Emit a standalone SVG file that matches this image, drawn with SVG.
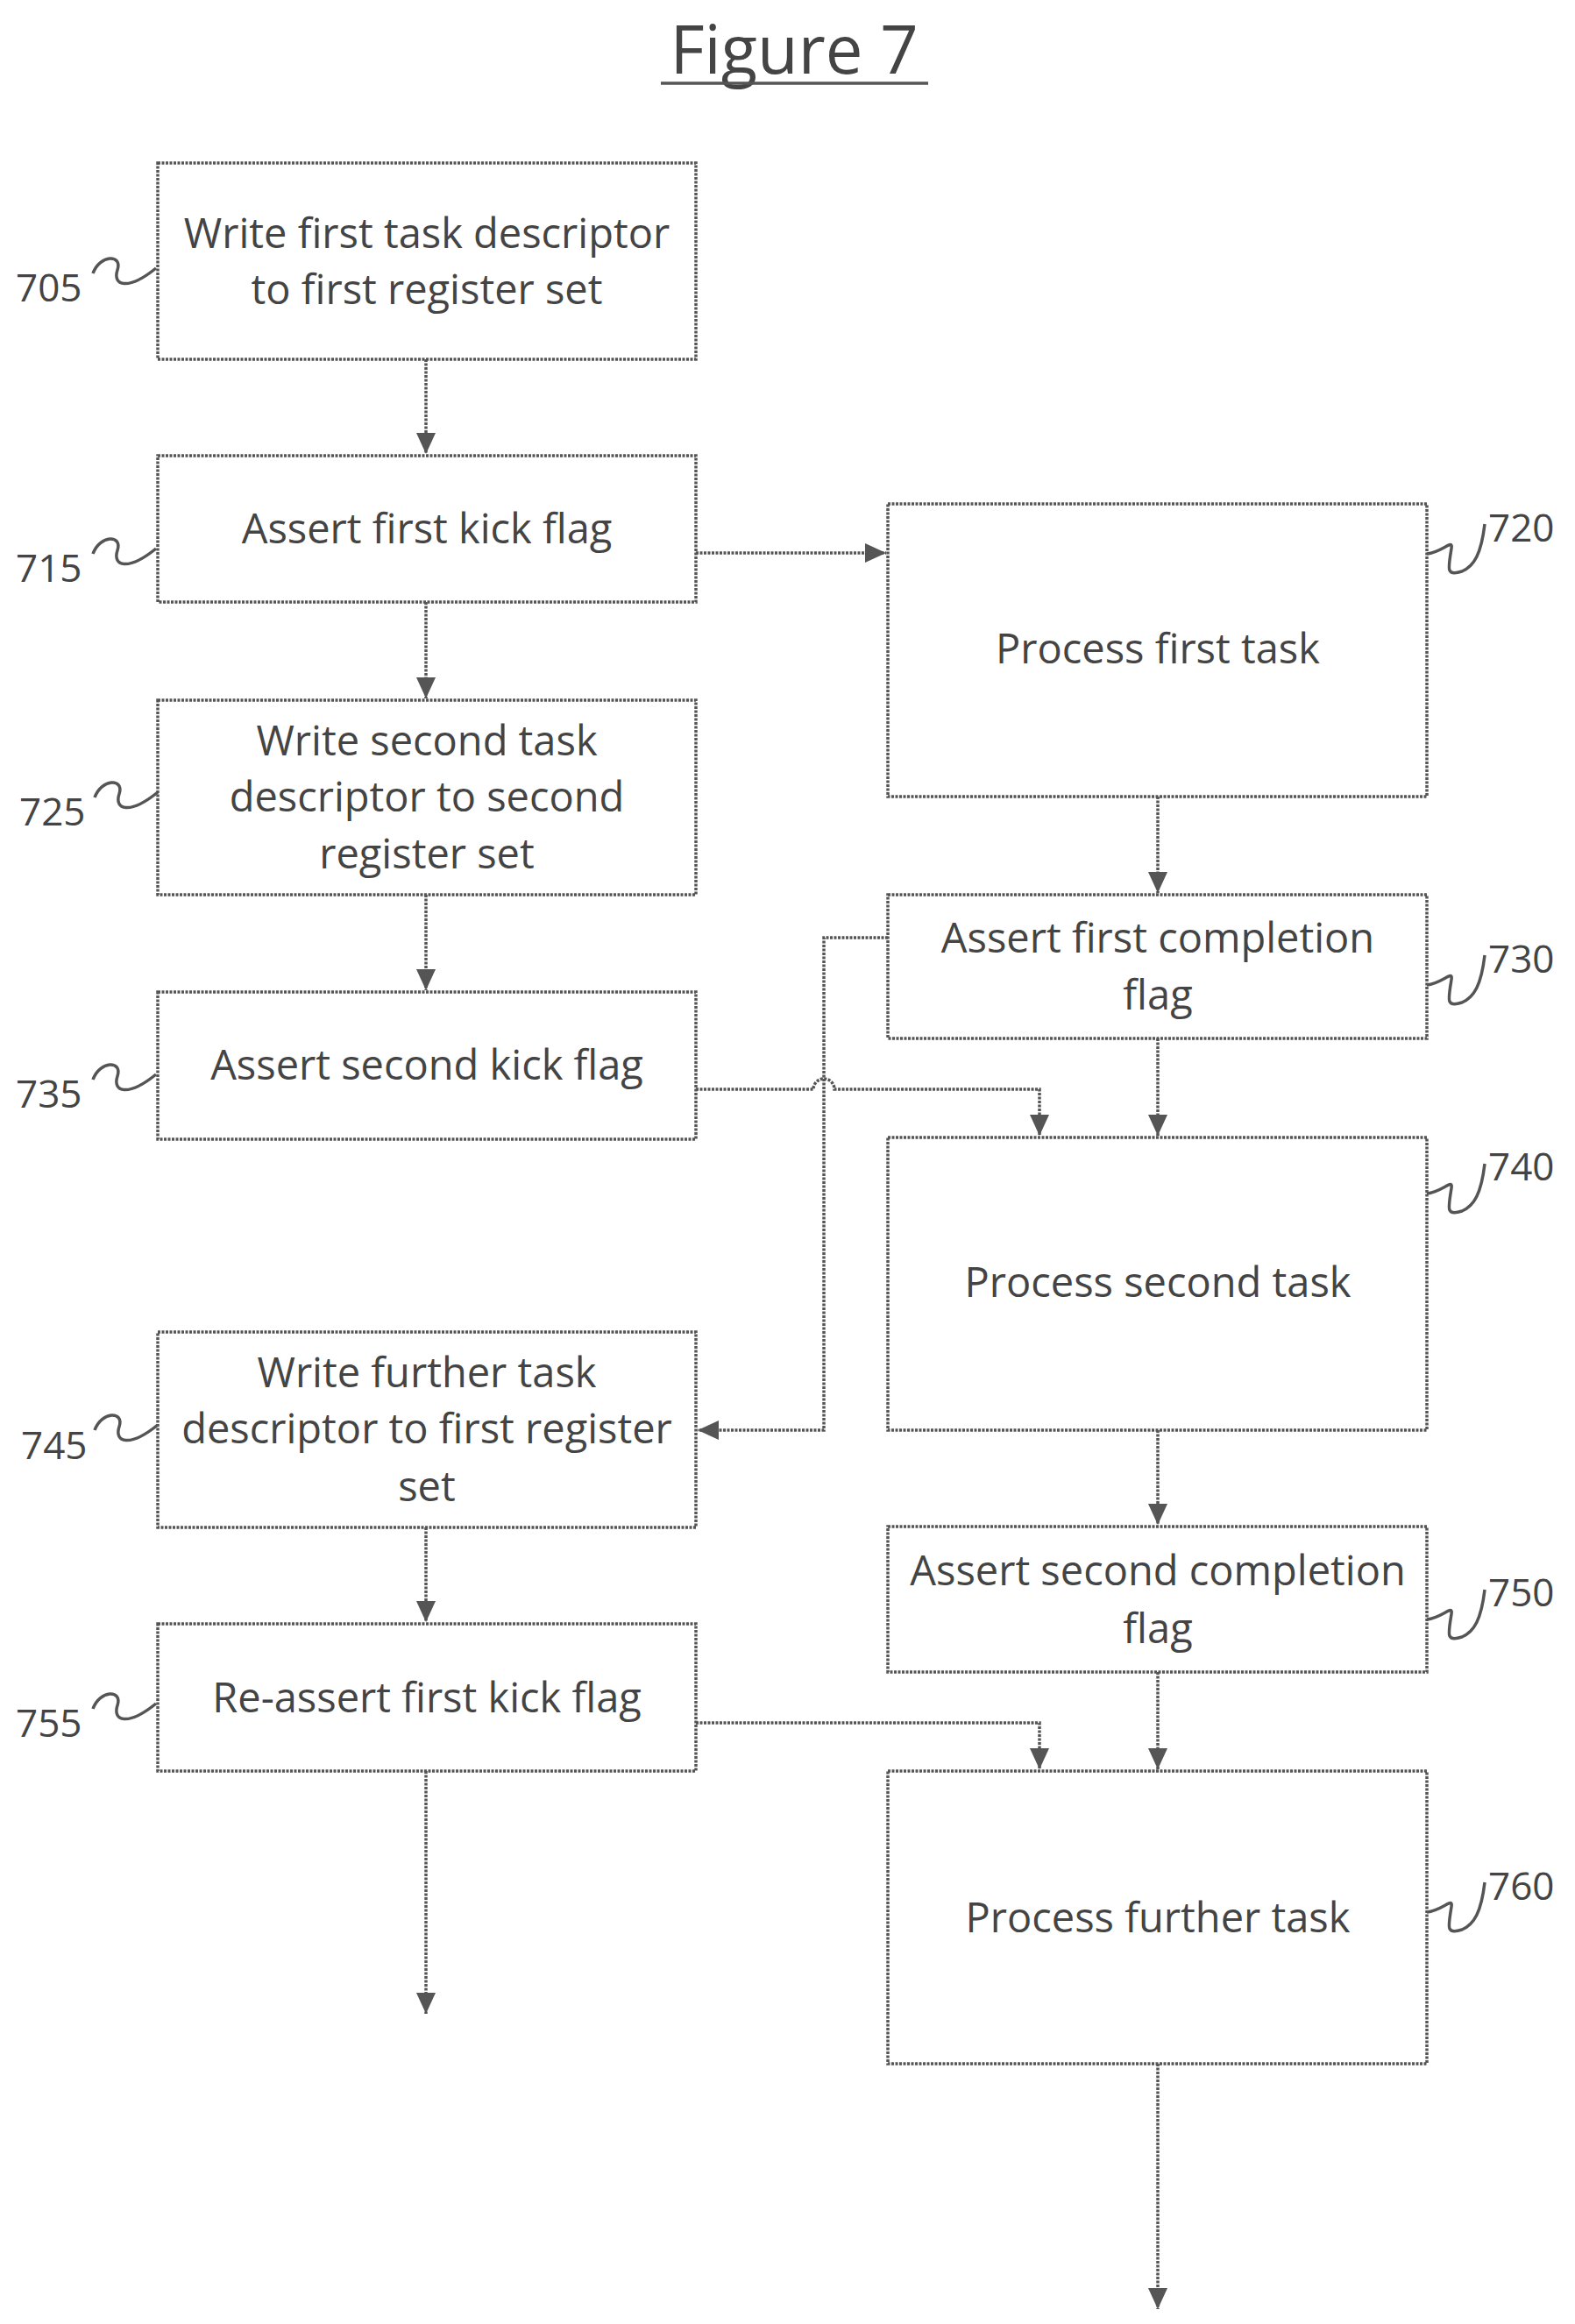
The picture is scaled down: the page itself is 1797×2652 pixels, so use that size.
<svg xmlns="http://www.w3.org/2000/svg" width="1797" height="2652" viewBox="0 0 1797 2652">
<style>
rect.b{fill:#fff;stroke:#555;stroke-width:3.5;stroke-dasharray:3 1.5}
text{font-family:"Open Sans","Liberation Sans",sans-serif;fill:#444}
.t{font-size:47px;text-anchor:middle}
.n{font-size:44px}
.c{fill:none;stroke:#555;stroke-width:3.5;stroke-dasharray:3 1.5}
.s{fill:none;stroke:#555;stroke-width:3.5}
</style>
<defs>
<marker id="ah" markerWidth="24" markerHeight="22" refX="24" refY="11" orient="auto" markerUnits="userSpaceOnUse"><path d="M0,0 L24,11 L0,22 Z" fill="#555"/></marker>
<path id="sl" d="M0,0 C8,-22 34,-22 28,-4 C22,14 40,20 72,-6"/>
<path id="sr" d="M0,0 C18,-2 30,-18 28,-6 C24,18 22,26 40,20 C54,14 62,0 66,-34"/>
</defs>
<text x="906" y="84" font-size="76" text-anchor="middle" font-family="Open Sans,sans-serif" fill="#444">Figure 7</text>
<line x1="754" y1="95" x2="1059" y2="95" class="s"/>
<g id="connectors">
<path class="c" d="M486,410 V518" marker-end="url(#ah)"/>
<path class="c" d="M794,631 H1011" marker-end="url(#ah)"/>
<path class="c" d="M486,687 V797" marker-end="url(#ah)"/>
<path class="c" d="M486,1021 V1130" marker-end="url(#ah)"/>
<path class="c" d="M1321,909 V1019" marker-end="url(#ah)"/>
<path class="c" d="M1321,1185 V1296" marker-end="url(#ah)"/>
<path class="c" d="M794,1243 H928 A12,12 0 0 1 952,1243 H1186 V1296" marker-end="url(#ah)"/>
<path class="c" d="M1013,1070 H940 V1632 H796" marker-end="url(#ah)"/>
<path class="c" d="M1321,1632 V1740" marker-end="url(#ah)"/>
<path class="c" d="M486,1743 V1851" marker-end="url(#ah)"/>
<path class="c" d="M1321,1908 V2019" marker-end="url(#ah)"/>
<path class="c" d="M794,1966 H1186 V2019" marker-end="url(#ah)"/>
<path class="c" d="M486,2021 V2298" marker-end="url(#ah)"/>
<path class="c" d="M1321,2355 V2635" marker-end="url(#ah)"/>
</g>
<g id="n705"><rect class="b" x="180" y="186" width="614" height="224"/><text class="t" x="487" y="283">Write first task descriptor</text><text class="t" x="487" y="347">to first register set</text><text class="n" x="18" y="344">705</text><use href="#sl" x="106" y="312" class="s"/></g>
<g id="n715"><rect class="b" x="180" y="520" width="614" height="167"/><text class="t" x="487" y="620">Assert first kick flag</text><text class="n" x="18" y="664">715</text><use href="#sl" x="106" y="632" class="s"/></g>
<g id="n725"><rect class="b" x="180" y="799" width="614" height="222"/><text class="t" x="487" y="862">Write second task</text><text class="t" x="487" y="926">descriptor to second</text><text class="t" x="487" y="991">register set</text><text class="n" x="22" y="942">725</text><use href="#sl" x="108" y="910" class="s"/></g>
<g id="n735"><rect class="b" x="180" y="1132" width="614" height="168"/><text class="t" x="487" y="1232">Assert second kick flag</text><text class="n" x="18" y="1264">735</text><use href="#sl" x="106" y="1232" class="s"/></g>
<g id="n745"><rect class="b" x="180" y="1520" width="614" height="223"/><text class="t" x="487" y="1583">Write further task</text><text class="t" x="487" y="1647">descriptor to first register</text><text class="t" x="487" y="1713">set</text><text class="n" x="24" y="1665">745</text><use href="#sl" x="108" y="1632" class="s"/></g>
<g id="n755"><rect class="b" x="180" y="1853" width="614" height="168"/><text class="t" x="487" y="1954">Re-assert first kick flag</text><text class="n" x="18" y="1982">755</text><use href="#sl" x="106" y="1950" class="s"/></g>
<g id="n720"><rect class="b" x="1013" y="575" width="615" height="334"/><text class="t" x="1321" y="757">Process first task</text><text class="n" x="1698" y="618">720</text><use href="#sr" x="1628" y="632" class="s"/></g>
<g id="n730"><rect class="b" x="1013" y="1021" width="615" height="164"/><text class="t" x="1321" y="1087">Assert first completion</text><text class="t" x="1321" y="1152">flag</text><text class="n" x="1698" y="1110">730</text><use href="#sr" x="1628" y="1124" class="s"/></g>
<g id="n740"><rect class="b" x="1013" y="1298" width="615" height="334"/><text class="t" x="1321" y="1480">Process second task</text><text class="n" x="1698" y="1347">740</text><use href="#sr" x="1628" y="1362" class="s"/></g>
<g id="n750"><rect class="b" x="1013" y="1742" width="615" height="166"/><text class="t" x="1321" y="1809">Assert second completion</text><text class="t" x="1321" y="1875">flag</text><text class="n" x="1698" y="1833">750</text><use href="#sr" x="1628" y="1848" class="s"/></g>
<g id="n760"><rect class="b" x="1013" y="2021" width="615" height="334"/><text class="t" x="1321" y="2205">Process further  task</text><text class="n" x="1698" y="2168">760</text><use href="#sr" x="1628" y="2182" class="s"/></g>
</svg>
